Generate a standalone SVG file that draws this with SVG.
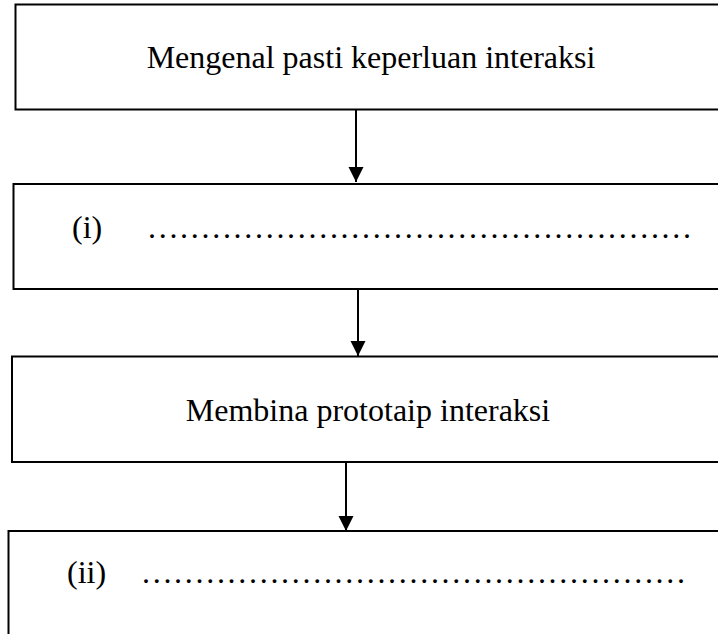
<svg xmlns="http://www.w3.org/2000/svg" width="718" height="634" viewBox="0 0 718 634">
  <style>
    .box { fill: #ffffff; stroke: #000000; stroke-width: 2; }
    .link { stroke: #000000; stroke-width: 2; fill: none; }
    .label { font-family: "Liberation Serif", "Times New Roman", serif; font-size: 32px; fill: #000000; }
    .dots { letter-spacing: 2.7px; }
  </style>
  <defs>
    <marker id="arrowhead" markerUnits="userSpaceOnUse" markerWidth="16" markerHeight="16" viewBox="0 0 16 16" refX="15" refY="8" orient="auto">
      <path d="M0,0.5 L15,8 L0,15.5 Z" fill="#000000"/>
    </marker>
  </defs>
  <rect x="0" y="0" width="718" height="634" fill="#ffffff"/>

  <g id="step1">
    <rect class="box" x="15.5" y="4.5" width="720" height="105"/>
    <text class="label" x="371" y="68" text-anchor="middle">Mengenal pasti keperluan interaksi</text>
  </g>

  <g id="step2">
    <rect class="box" x="13.5" y="184" width="720" height="105"/>
    <text class="label" x="72" y="238">(i)</text>
    <!-- answer line: 51 dots -->
    <text class="label dots" x="148" y="238">...................................................</text>
  </g>

  <g id="step3">
    <rect class="box" x="12" y="356.5" width="720" height="105.5"/>
    <text class="label" x="368" y="421" text-anchor="middle">Membina prototaip interaksi</text>
  </g>

  <g id="step4">
    <rect class="box" x="8.5" y="531" width="720" height="120"/>
    <text class="label" x="67" y="583">(ii)</text>
    <text class="label dots" x="142" y="583">...................................................</text>
  </g>

  <g id="connectors">
    <line class="link" x1="356" y1="110" x2="356" y2="182" marker-end="url(#arrowhead)"/>
    <line class="link" x1="358" y1="290" x2="358" y2="356" marker-end="url(#arrowhead)"/>
    <line class="link" x1="346" y1="462" x2="346" y2="531" marker-end="url(#arrowhead)"/>
  </g>
</svg>
